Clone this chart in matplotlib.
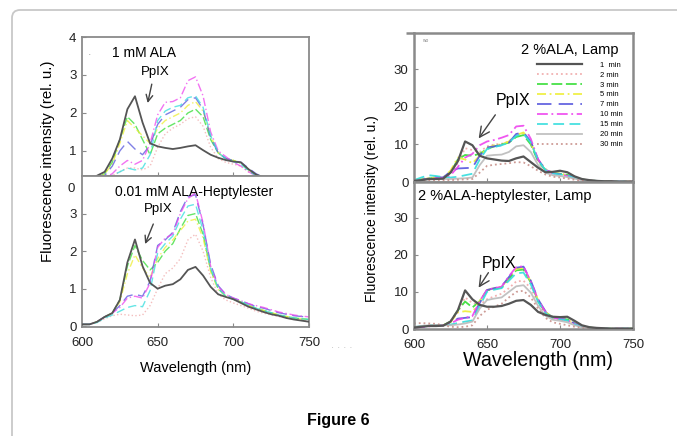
import numpy as np
import matplotlib
matplotlib.use('Agg')
import matplotlib.pyplot as plt
from matplotlib.patches import FancyBboxPatch

plt.rcParams['font.family'] = ['Liberation Sans', 'DejaVu Sans']

# ---- data ----
wavelength = list(range(600, 751, 5))
times = ['1  min', '2 min', '3 min', '5 min', '7 min', '10 min', '15 min', '20 min', '30 min']

# left top: 1 mM ALA
lt_1min = [0.10, 0.15, 0.35, 0.45, 0.80, 1.30, 2.10, 2.44, 1.75, 1.20, 1.12, 1.08, 1.05, 1.08, 1.12, 1.15,
           1.02, 0.90, 0.82, 0.76, 0.72, 0.70, 0.52, 0.38, 0.30, 0.25, 0.20, 0.18, 0.15, 0.15, 0.15]
lt_2min = [0.10, 0.12, 0.20, 0.28, 0.35, 0.45, 0.55, 0.55, 0.50, 0.60, 1.10, 1.45, 1.60, 1.70, 1.85, 1.90,
           1.65, 1.10, 0.80, 0.70, 0.65, 0.60, 0.45, 0.35, 0.25, 0.20, 0.18, 0.15, 0.12, 0.12, 0.12]
lt_3min = [0.10, 0.15, 0.30, 0.40, 0.70, 1.30, 1.90, 1.70, 1.30, 0.90, 1.45, 1.60, 1.70, 1.80, 2.00, 2.10,
           1.90, 1.30, 0.95, 0.80, 0.75, 0.68, 0.50, 0.35, 0.28, 0.22, 0.18, 0.15, 0.15, 0.15, 0.15]
lt_5min = [0.10, 0.15, 0.30, 0.40, 0.65, 1.20, 1.80, 1.60, 1.40, 1.20, 1.60, 1.80, 1.90, 2.00, 2.20, 2.30,
           2.05, 1.40, 0.95, 0.80, 0.75, 0.68, 0.50, 0.35, 0.28, 0.22, 0.18, 0.15, 0.15, 0.15, 0.15]
lt_7min = [0.10, 0.12, 0.25, 0.35, 0.60, 1.00, 1.25, 1.05, 0.90, 1.15, 1.70, 1.95, 2.05, 2.15, 2.35, 2.40,
           2.10, 1.35, 0.95, 0.80, 0.75, 0.70, 0.55, 0.40, 0.30, 0.22, 0.18, 0.15, 0.15, 0.15, 0.15]
lt_10min = [0.10, 0.10, 0.20, 0.30, 0.40, 0.60, 0.75, 0.65, 0.75, 1.20, 1.95, 2.28, 2.30, 2.40, 2.85, 2.95,
            2.45, 1.50, 1.00, 0.85, 0.70, 0.60, 0.45, 0.35, 0.25, 0.20, 0.18, 0.15, 0.15, 0.15, 0.15]
lt_15min = [0.10, 0.10, 0.20, 0.30, 0.35, 0.45, 0.55, 0.50, 0.55, 0.90, 1.80, 2.05, 2.15, 2.20, 2.40, 2.45,
            2.15, 1.40, 0.95, 0.80, 0.72, 0.65, 0.48, 0.35, 0.25, 0.20, 0.18, 0.15, 0.15, 0.15, 0.15]

# left bottom: 0.01 mM ALA-Heptylester
lb_1min = [0.05, 0.05, 0.12, 0.25, 0.35, 0.70, 1.70, 2.31, 1.60, 1.15, 1.00, 1.08, 1.12, 1.25, 1.50, 1.58,
           1.35, 1.05, 0.85, 0.78, 0.72, 0.62, 0.52, 0.45, 0.38, 0.32, 0.28, 0.22, 0.18, 0.15, 0.12]
lb_2min = [0.05, 0.05, 0.10, 0.20, 0.28, 0.32, 0.30, 0.28, 0.30, 0.55, 1.00, 1.40, 1.55, 1.80, 2.30, 2.45,
           2.00, 1.30, 0.85, 0.70, 0.62, 0.55, 0.48, 0.40, 0.35, 0.30, 0.26, 0.22, 0.20, 0.18, 0.15]
lb_3min = [0.05, 0.05, 0.12, 0.25, 0.35, 0.70, 1.60, 2.15, 1.75, 1.50, 1.70, 2.00, 2.20, 2.60, 2.95, 3.00,
           2.45, 1.50, 1.00, 0.80, 0.72, 0.65, 0.55, 0.48, 0.42, 0.36, 0.30, 0.26, 0.22, 0.20, 0.18]
lb_5min = [0.05, 0.05, 0.12, 0.25, 0.35, 0.65, 1.40, 1.90, 1.55, 1.30, 1.80, 2.10, 2.30, 2.55, 2.80, 2.85,
           2.35, 1.45, 0.98, 0.80, 0.72, 0.65, 0.55, 0.48, 0.42, 0.36, 0.30, 0.26, 0.22, 0.20, 0.18]
lb_7min = [0.05, 0.05, 0.12, 0.25, 0.35, 0.55, 0.80, 0.85, 0.80, 1.20, 2.15, 2.30, 2.50, 3.05, 3.45, 3.50,
           2.70, 1.65, 1.08, 0.85, 0.75, 0.68, 0.60, 0.52, 0.48, 0.42, 0.36, 0.32, 0.28, 0.26, 0.24]
lb_10min = [0.05, 0.05, 0.12, 0.25, 0.35, 0.50, 0.75, 0.80, 0.75, 1.15, 2.10, 2.35, 2.45, 3.00, 3.40, 3.55,
            2.75, 1.60, 1.05, 0.85, 0.75, 0.68, 0.60, 0.55, 0.50, 0.44, 0.38, 0.34, 0.30, 0.27, 0.25]
lb_15min = [0.05, 0.05, 0.10, 0.22, 0.30, 0.40, 0.50, 0.55, 0.52, 0.95, 1.95, 2.20, 2.40, 2.85, 3.20, 3.25,
            2.55, 1.55, 1.00, 0.80, 0.72, 0.65, 0.56, 0.48, 0.42, 0.36, 0.30, 0.26, 0.22, 0.20, 0.18]

# right top: 2 %ALA, Lamp
rt_1min = [0.3, 0.5, 0.8, 0.8, 0.9, 2.5, 5.5, 10.8, 9.8, 7.0, 6.3, 6.0, 5.7, 5.6, 6.3, 6.8,
           5.3, 3.8, 2.6, 2.7, 3.0, 2.6, 1.5, 0.8, 0.5, 0.3, 0.2, 0.2, 0.1, 0.1, 0.1]
rt_2min = [0.5, 0.8, 1.0, 1.2, 1.3, 2.5, 5.0, 9.0, 8.5, 8.0, 9.5, 10.0, 10.2, 10.8, 12.5, 13.0,
           10.5, 6.0, 3.5, 2.5, 2.2, 1.8, 1.2, 0.6, 0.4, 0.3, 0.2, 0.1, 0.1, 0.1, 0.1]
rt_3min = [0.4, 0.6, 0.9, 1.2, 1.0, 2.5, 6.0, 7.2, 7.0, 7.5, 8.8, 9.5, 10.0, 10.5, 12.0, 12.5,
           10.0, 5.5, 3.2, 2.4, 2.2, 1.9, 1.3, 0.7, 0.4, 0.3, 0.2, 0.1, 0.1, 0.1, 0.1]
rt_5min = [0.5, 0.8, 1.0, 1.2, 1.2, 3.0, 6.5, 6.0, 5.0, 7.0, 9.0, 9.8, 10.0, 10.8, 12.5, 13.2,
           10.5, 5.8, 3.3, 2.5, 2.2, 1.8, 1.2, 0.6, 0.4, 0.3, 0.2, 0.1, 0.1, 0.1, 0.1]
rt_7min = [0.4, 0.6, 0.9, 1.3, 1.2, 2.8, 3.6, 3.7, 3.8, 7.0, 9.2, 9.5, 9.8, 10.5, 12.8, 13.2,
           10.8, 6.0, 3.3, 2.4, 2.1, 1.8, 1.2, 0.6, 0.4, 0.3, 0.2, 0.1, 0.1, 0.1, 0.1]
rt_10min = [0.3, 0.5, 0.8, 1.0, 1.0, 1.8, 4.0, 6.5, 7.5, 9.8, 10.8, 11.2, 11.8, 12.5, 14.8, 15.0,
            11.5, 6.0, 3.2, 2.3, 2.0, 1.6, 1.0, 0.5, 0.3, 0.2, 0.1, 0.1, 0.1, 0.1, 0.1]
rt_15min = [0.5, 1.2, 1.8, 1.6, 1.3, 1.2, 1.4, 1.8, 2.2, 6.0, 8.8, 9.3, 9.8, 10.5, 12.3, 12.8,
            10.5, 5.8, 3.2, 2.3, 2.0, 1.7, 1.1, 0.5, 0.3, 0.2, 0.1, 0.1, 0.1, 0.1, 0.1]
rt_20min = [0.3, 0.5, 0.7, 0.8, 0.8, 0.8, 0.9, 1.0, 1.2, 4.5, 7.0, 7.2, 7.3, 8.0, 9.5, 9.8,
            8.0, 4.5, 2.5, 1.8, 1.6, 1.3, 0.9, 0.5, 0.3, 0.2, 0.1, 0.1, 0.1, 0.1, 0.1]
rt_30min = [0.2, 0.3, 0.4, 0.5, 0.5, 0.5, 0.6, 0.7, 0.8, 2.5, 4.3, 4.6, 4.8, 5.0, 5.3, 5.2,
            4.2, 3.0, 2.0, 1.4, 1.2, 0.9, 0.6, 0.3, 0.2, 0.1, 0.1, 0.1, 0.1, 0.1, 0.1]

# right bottom: 2 %ALA-heptylester, Lamp
rb_1min = [0.4, 0.6, 0.8, 0.8, 0.9, 2.0, 5.0, 10.4, 8.0, 6.5, 6.0, 6.0, 6.2, 6.8, 7.6, 7.8,
           6.5, 4.6, 3.8, 3.3, 3.2, 3.3, 2.2, 1.0, 0.5, 0.3, 0.2, 0.1, 0.1, 0.1, 0.1]
rb_2min = [0.5, 0.8, 1.0, 1.0, 1.0, 2.0, 4.5, 8.5, 7.0, 6.5, 8.0, 8.8, 9.5, 11.0, 12.8, 13.0,
           11.0, 7.0, 4.0, 2.8, 2.5, 2.2, 1.4, 0.6, 0.3, 0.2, 0.1, 0.1, 0.1, 0.1, 0.1]
rb_3min = [0.4, 0.6, 0.8, 1.0, 1.0, 2.0, 5.0, 7.4, 5.8, 7.5, 10.4, 10.8, 11.2, 13.5, 15.8, 16.0,
           12.5, 7.5, 4.5, 3.2, 2.8, 2.6, 1.6, 0.7, 0.4, 0.2, 0.1, 0.1, 0.1, 0.1, 0.1]
rb_5min = [0.4, 0.6, 0.8, 1.0, 1.0, 1.8, 4.5, 4.8, 4.6, 7.5, 10.5, 11.0, 11.4, 13.8, 16.2, 16.5,
           12.8, 7.8, 4.6, 3.2, 2.8, 2.5, 1.5, 0.7, 0.4, 0.2, 0.1, 0.1, 0.1, 0.1, 0.1]
rb_7min = [0.4, 0.6, 0.8, 1.0, 1.0, 1.5, 2.8, 3.0, 3.2, 7.0, 10.5, 11.0, 11.5, 14.0, 16.5, 16.8,
           13.0, 8.0, 4.8, 3.2, 2.8, 2.5, 1.5, 0.7, 0.4, 0.2, 0.1, 0.1, 0.1, 0.1, 0.1]
rb_10min = [0.3, 0.5, 0.7, 0.9, 1.0, 1.5, 2.5, 3.0, 3.5, 7.5, 10.6, 11.0, 11.4, 14.2, 16.7, 16.9,
            12.8, 7.8, 4.6, 3.1, 2.7, 2.4, 1.4, 0.6, 0.3, 0.2, 0.1, 0.1, 0.1, 0.1, 0.1]
rb_15min = [0.5, 0.8, 1.0, 1.1, 1.0, 1.2, 1.6, 2.0, 2.3, 6.2, 10.0, 10.6, 11.0, 13.0, 15.0, 15.2,
            12.0, 7.3, 4.3, 3.0, 2.6, 2.3, 1.3, 0.6, 0.3, 0.2, 0.1, 0.1, 0.1, 0.1, 0.1]
rb_20min = [0.6, 0.8, 1.0, 1.1, 1.0, 1.0, 1.2, 1.5, 2.0, 5.5, 7.8, 8.2, 8.5, 10.0, 11.5, 11.8,
            9.8, 6.2, 3.6, 2.5, 2.2, 1.8, 1.0, 0.5, 0.3, 0.2, 0.1, 0.1, 0.1, 0.1, 0.1]
rb_30min = [1.5, 1.6, 1.5, 1.4, 1.0, 0.6, 0.5, 0.6, 1.0, 3.5, 5.2, 6.0, 6.8, 8.5, 10.0, 10.3,
            8.5, 5.5, 3.0, 1.8, 1.4, 1.0, 0.6, 0.3, 0.2, 0.1, 0.1, 0.1, 0.1, 0.1, 0.1]

# ---- styles: one per irradiation time ----
colors = ['#555555', '#f0a8a8', '#33dd33', '#eeee33', '#5555dd', '#ee44ee', '#33dddd', '#bbbbbb', '#c8908a']
styles = ['-', ':', (0, (6, 2)), (0, (5, 2, 1, 2)), (0, (8, 4)), (0, (6, 2, 1, 2)), (0, (6, 3)), '-', ':']

left_top = [lt_1min, lt_2min, lt_3min, lt_5min, lt_7min, lt_10min, lt_15min]
left_bot = [lb_1min, lb_2min, lb_3min, lb_5min, lb_7min, lb_10min, lb_15min]
right_top = [rt_1min, rt_2min, rt_3min, rt_5min, rt_7min, rt_10min, rt_15min, rt_20min, rt_30min]
right_bot = [rb_1min, rb_2min, rb_3min, rb_5min, rb_7min, rb_10min, rb_15min, rb_20min, rb_30min]

W, H = 677, 436
fig = plt.figure(figsize=(W / 100, H / 100), dpi=100)

# outer rounded frame (runs off the right and bottom edges)
frame = FancyBboxPatch((0.12, -1.0), 10.0, 5.26, boxstyle='round,pad=0,rounding_size=0.08',
                       transform=fig.dpi_scale_trans, fill=False, edgecolor='#c8c8c8', linewidth=1.3)
fig.patches.append(frame)


def px_axes(x0, y0, x1, y1):
    return fig.add_axes([x0 / W, 1 - y1 / H, (x1 - x0) / W, (y1 - y0) / H])


def style_axes(ax, lw):
    for s in ax.spines.values():
        s.set_color('#8a8a8a')
        s.set_linewidth(lw)
    ax.tick_params(direction='in', length=3, color='#8a8a8a', labelsize=9.5, labelcolor='#222222')
    ax.tick_params(axis='y', pad=4)
    ax.tick_params(axis='x', pad=7)
    ax.set_xlim(600, 750)


def draw(ax, series, lw, alpha):
    lines = []
    for i in range(len(series)):
        ln, = ax.plot(wavelength, series[i], color=colors[i], linestyle=styles[i],
                      linewidth=lw + (0.3 if i == 0 else 0), alpha=1.0 if i == 0 else alpha,
                      zorder=3 if i == 0 else 2, label=times[i])
        lines.append(ln)
    return lines


arrow_kw = dict(arrowstyle='->', color='#444444', lw=1.0, mutation_scale=12)
arrow_big = dict(arrowstyle='->', color='#444444', lw=1.0, mutation_scale=18)

# ---- left top ----
ax1 = px_axes(82, 37, 309, 176)
draw(ax1, left_top, 1.0, 0.75)
style_axes(ax1, 1.3)
ax1.set_ylim(0.34, 4.0)
ax1.set_yticks([1, 2, 3, 4])
ax1.set_xticks([650, 700])
ax1.set_xticklabels([])
ax1.text(-0.031, 0, '0', transform=ax1.get_yaxis_transform(), ha='right', va='center',
         fontsize=9.5, color='#222222', clip_on=False)
ax1.text(0.024, 0.87, '.', transform=ax1.transAxes, color='#aaaaaa', fontsize=9)
ax1.text(641, 3.59, '1 mM ALA', ha='center', va='center', fontsize=10)
ax1.text(648.4, 3.09, 'PpIX', ha='center', va='center', fontsize=9.5)
ax1.annotate('', xy=(643, 2.19), xytext=(646.5, 2.83), arrowprops=arrow_kw)

# ---- left bottom ----
ax2 = px_axes(82, 176, 309, 327)
draw(ax2, left_bot, 1.0, 0.75)
style_axes(ax2, 1.3)
ax2.set_ylim(-0.02, 4.0)
ax2.set_yticks([0, 1, 2, 3])
ax2.set_xticks([600, 650, 700, 750])
ax2.text(674.3, 3.58, '0.01 mM ALA-Heptylester', ha='center', va='center', fontsize=10)
ax2.text(650.4, 3.13, 'PpIX', ha='center', va='center', fontsize=9.5)
ax2.annotate('', xy=(641, 2.12), xytext=(647.8, 2.79), arrowprops=arrow_kw)
ax2.set_xlabel('Wavelength (nm)', fontsize=10.5, labelpad=9)

fig.text(48 / W, 1 - 161 / H, 'Fluorescence intensity (rel. u.)', rotation=90,
         ha='center', va='center', fontsize=10.8)
fig.text(342 / W, 1 - 345 / H, '. . . .', color='#c0c0c0', fontsize=8, ha='center', va='center')

# ---- right top ----
ax3 = px_axes(414, 33, 633, 182)
lines = draw(ax3, right_top, 1.3, 0.9)
style_axes(ax3, 1.8)
ax3.set_ylim(0, 39.7)
ax3.set_yticks([0, 10, 20, 30])
ax3.set_yticks([39.7], minor=True)
ax3.tick_params(axis='y', which='minor', direction='out', length=6, width=1.8, color='#8a8a8a')
ax3.set_xticks([650, 700])
ax3.set_xticklabels([])
ax3.text(706.5, 35.2, '2 %ALA, Lamp', ha='center', va='center', fontsize=10.5)
ax3.text(667.8, 21.8, 'PpIX', ha='center', va='center', fontsize=11.5)
ax3.text(0.035, 0.94, 'wo', transform=ax3.transAxes, fontsize=3.5, color='#888888')
ax3.annotate('', xy=(643.2, 11.0), xytext=(656.8, 18.5), arrowprops=arrow_big)
ax3.legend(handles=lines, loc='upper left', bbox_to_anchor=(0.562, 0.81), frameon=False,
           fontsize=5.5, handlelength=5.9, handletextpad=2.4, labelspacing=0.34,
           borderpad=0, borderaxespad=0)

# ---- right bottom ----
ax4 = px_axes(414, 182, 633, 329)
draw(ax4, right_bot, 1.3, 0.9)
style_axes(ax4, 1.8)
ax4.set_ylim(0, 39.6)
ax4.set_yticks([0, 10, 20, 30])
ax4.set_xticks([600, 650, 700, 750])
ax4.text(602.7, 35.9, '2 %ALA-heptylester, Lamp', ha='left', va='center', fontsize=10.5)
ax4.text(658.6, 17.7, 'PpIX', ha='center', va='center', fontsize=11.5)
ax4.annotate('', xy=(643.2, 10.5), xytext=(652, 15.8), arrowprops=arrow_big)
ax4.set_xlabel('Wavelength (nm)', fontsize=14.2, labelpad=0)
ax4.xaxis.set_label_coords(0.566, -0.15)

fig.text(372 / W, 1 - 209 / H, 'Fluorescence intensity (rel. u.)', rotation=90,
         ha='center', va='center', fontsize=10)

fig.text(0.5, 1 - 420 / H, 'Figure 6', ha='center', va='center', fontsize=11.5, fontweight='bold')

plt.savefig('out.png', dpi=100)
plt.close()
